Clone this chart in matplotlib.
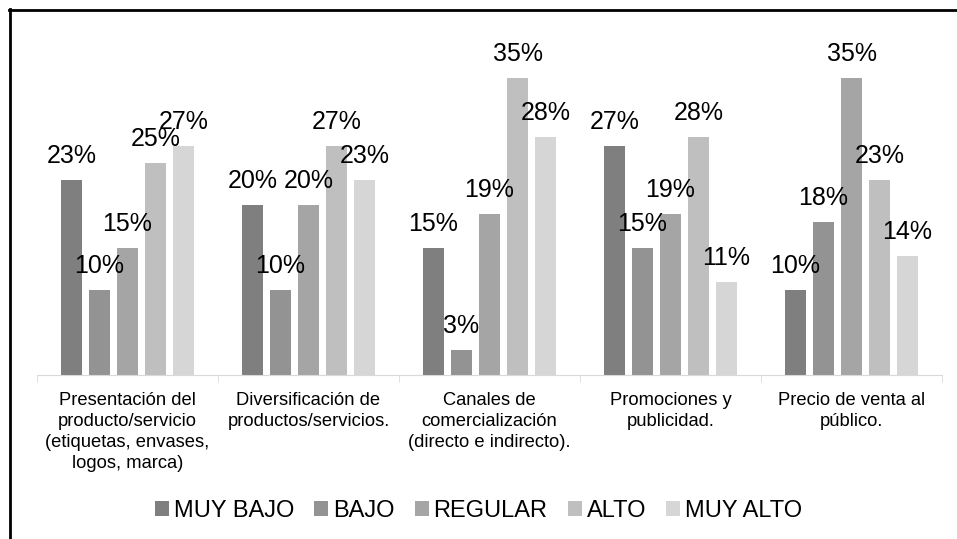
import matplotlib.pyplot as plt
from matplotlib.lines import Line2D
import numpy as np

plt.rcParams['font.family'] = ['Liberation Sans', 'DejaVu Sans']

categorias = ['Presentación del\nproducto/servicio\n(etiquetas, envases,\nlogos, marca)',
              'Diversificación de\nproductos/servicios.',
              'Canales de\ncomercialización\n(directo e indirecto).',
              'Promociones y\npublicidad.',
              'Precio de venta al\npúblico.']
series = ['MUY BAJO', 'BAJO', 'REGULAR', 'ALTO', 'MUY ALTO']
muy_bajo = [23, 20, 15, 27, 10]
bajo = [10, 10, 3, 15, 18]
regular = [15, 20, 19, 19, 35]
alto = [25, 27, 35, 28, 23]
muy_alto = [27, 23, 28, 11, 14]
colores = ['#7f7f7f', '#939393', '#a5a5a5', '#bfbfbf', '#d6d6d6']

valores = [muy_bajo, bajo, regular, alto, muy_alto]

fig = plt.figure(figsize=(9.57, 5.39), dpi=100)
ax = fig.add_axes([37/957, 1-375/539, (942-37)/957, (375-35)/539])

x = np.arange(len(categorias))
paso = 0.155
ancho = 0.116
for i, (nombre, vals, col) in enumerate(zip(series, valores, colores)):
    pos = x + (i - 2) * paso
    barras = ax.bar(pos, vals, ancho, color=col, label=nombre)
    for b, v in zip(barras, vals):
        ax.annotate(f'{v}%', (b.get_x() + b.get_width()/2, b.get_height()),
                    xytext=(0, 12), textcoords='offset points',
                    ha='center', va='baseline', fontsize=18)

ax.set_xlim(-0.5, 4.5)
ax.set_ylim(0, 40)
ax.set_yticks([])
for s in ['top', 'right', 'left']:
    ax.spines[s].set_visible(False)
ax.spines['bottom'].set_color('#d9d9d9')
ax.set_xticks(x)
ax.set_xticklabels(categorias, fontsize=13.2, linespacing=1.32, va='top')
ax.tick_params(axis='x', which='major', length=0, pad=12)
ax.set_xticks(np.arange(-0.5, 5, 1), minor=True)
ax.tick_params(axis='x', which='minor', length=5, color='#d9d9d9')

fig.legend(loc='center', bbox_to_anchor=(0.5, 1-511/539), ncol=5, frameon=False,
           fontsize=17, handlelength=0.6, handleheight=0.6, handletextpad=0.2,
           columnspacing=0.85)

# marco de la figura (solo arriba e izquierda visibles)
fig.add_artist(Line2D([9/957, 1], [1-10/539, 1-10/539], color='black', lw=2,
                      transform=fig.transFigure))
fig.add_artist(Line2D([10/957, 10/957], [0, 1-9/539], color='black', lw=2,
                      transform=fig.transFigure))

fig.savefig('out.png', dpi=100)
